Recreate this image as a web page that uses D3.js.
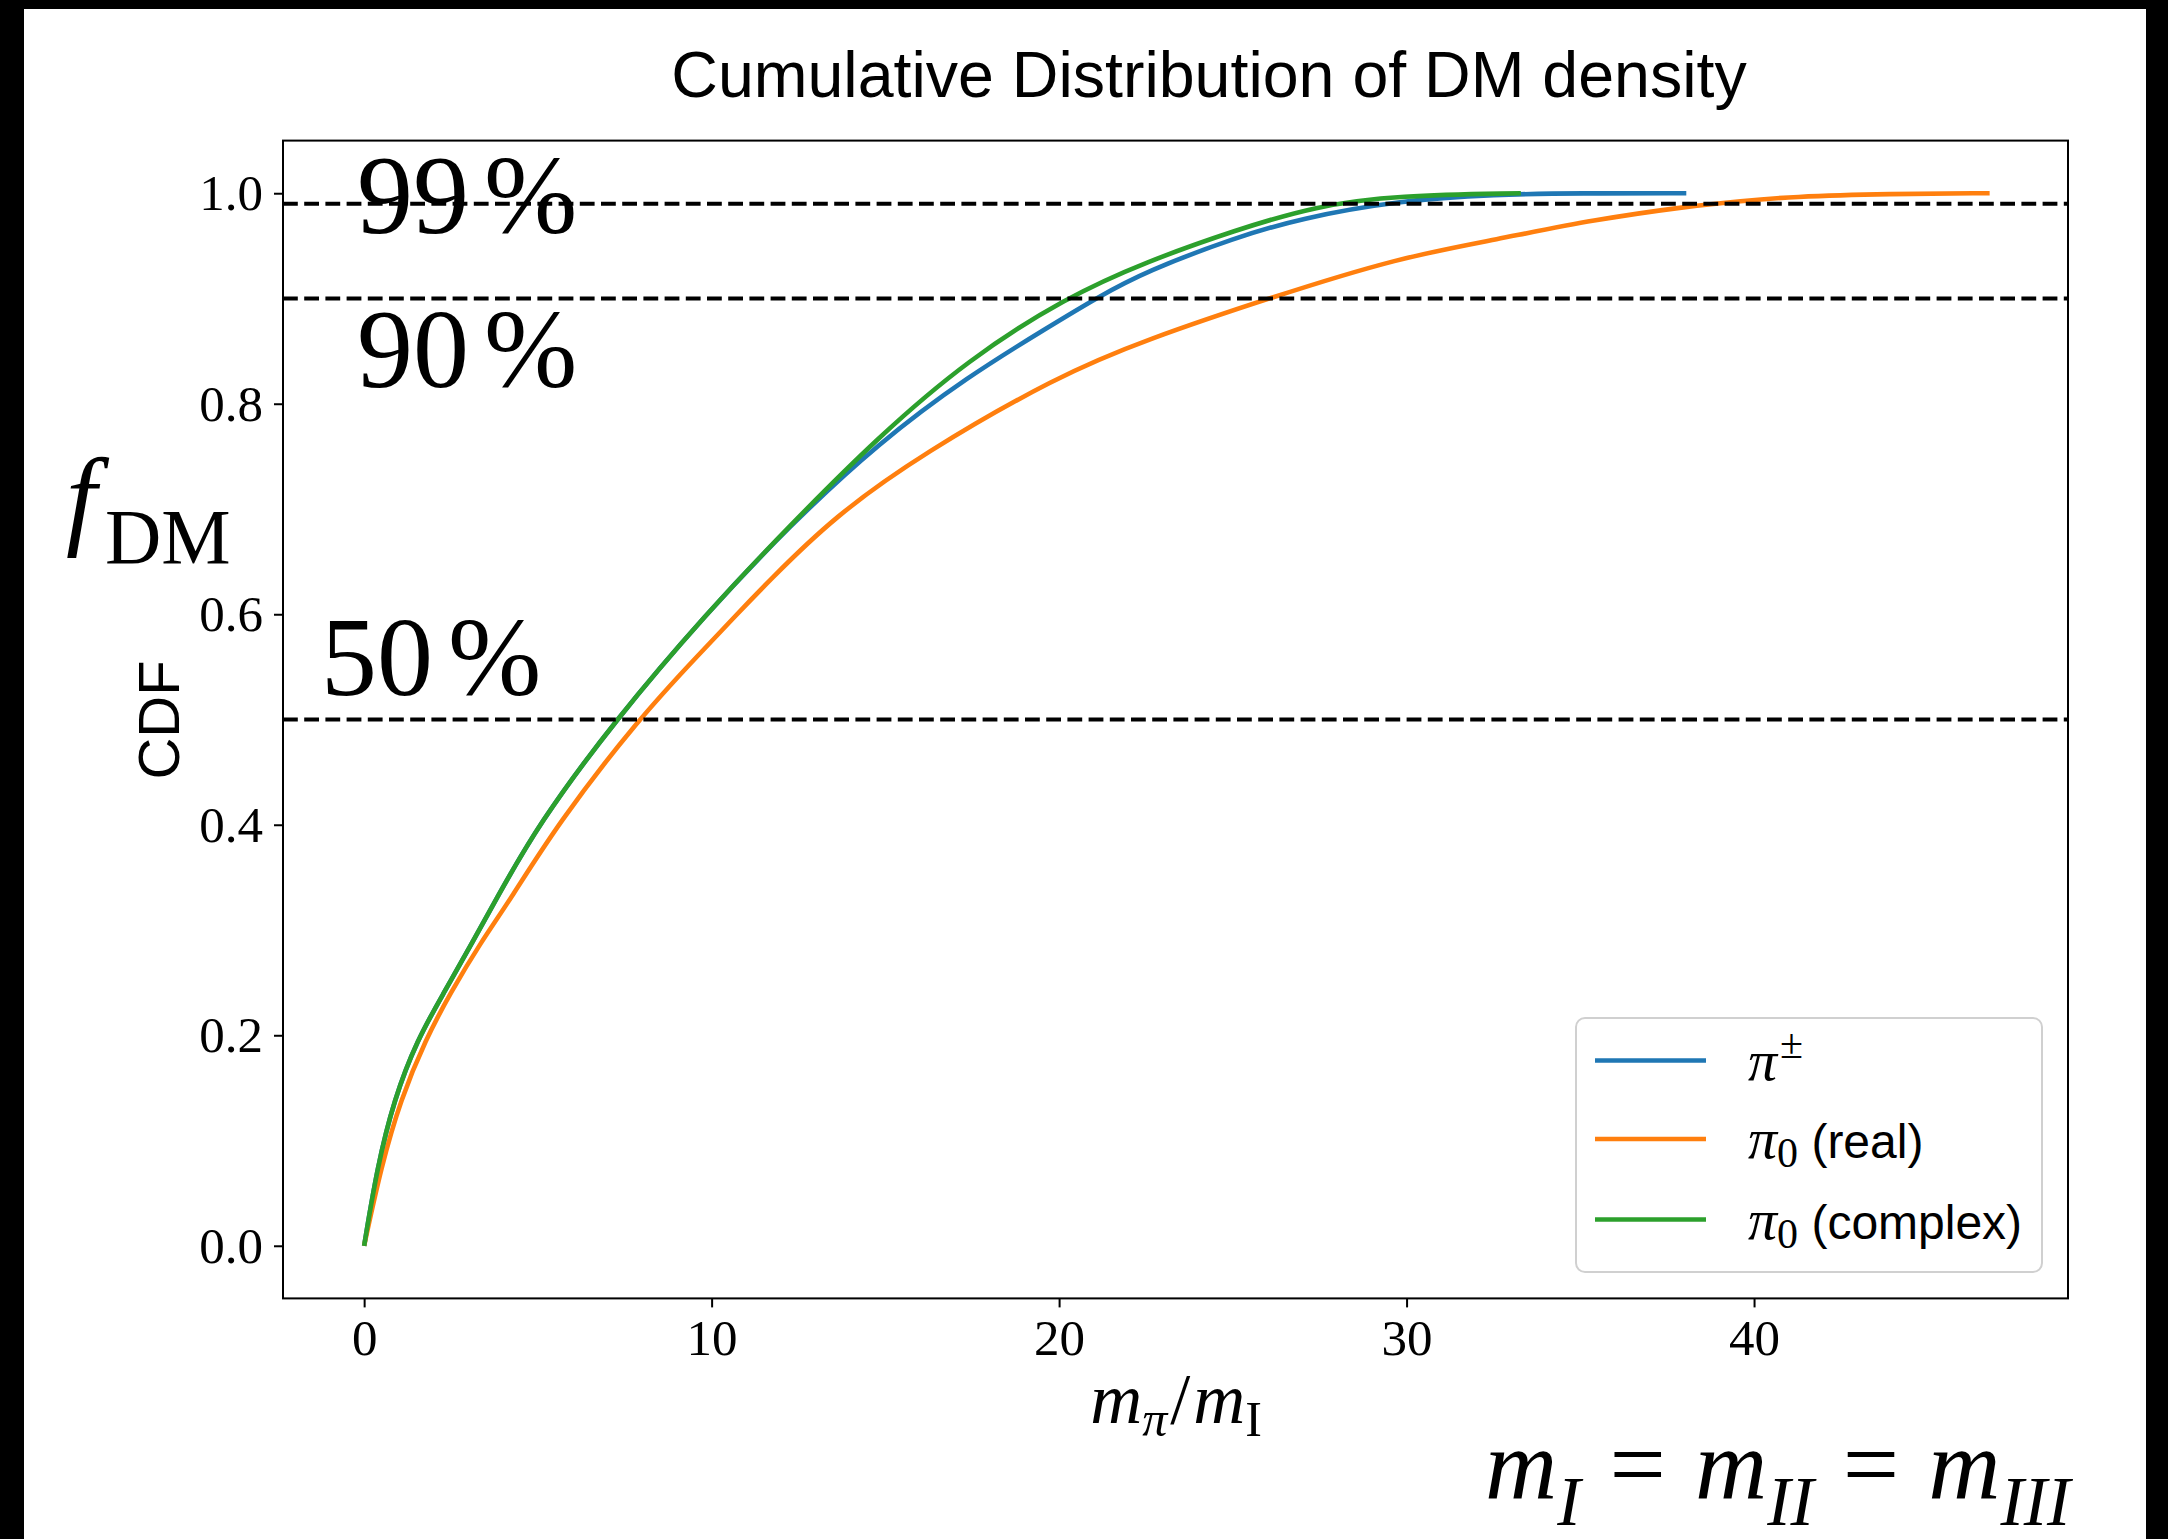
<!DOCTYPE html>
<html>
<head>
<meta charset="utf-8">
<script src="https://cdn.jsdelivr.net/npm/d3@7"></script>
<style>
  html, body { margin: 0; padding: 0; background: #000; }
  svg { display: block; }
</style>
</head>
<body>
<div id="chart"></div>
<script>
// values
var piPmX = [0, 0.38, 0.86, 1.53, 2.29, 3.06, 3.78, 5.0, 7.24, 9.83, 12.24, 14.81, 17.38, 19.7, 21.1, 22.51, 25.08, 26.93, 29.75, 32.58, 35.0, 38.05];
var piPmY = [0, 0.075, 0.139, 0.196, 0.240, 0.285, 0.328, 0.400, 0.500, 0.600, 0.684, 0.763, 0.826, 0.873, 0.901, 0.926, 0.958, 0.976, 0.993, 0.999, 1.0, 1.0];

var piRealX = [0, 0.49, 1.05, 1.77, 2.48, 3.35, 4.21, 5.55, 7.88, 9.67, 10.73, 11.6, 13.53, 16.09, 19.94, 22.51, 26.1, 29.8, 32.58, 35.4, 38.2, 39.6, 41.05, 43.9, 46.78];
var piRealY = [0, 0.075, 0.139, 0.196, 0.240, 0.288, 0.329, 0.400, 0.500, 0.563, 0.600, 0.630, 0.693, 0.753, 0.826, 0.861, 0.901, 0.939, 0.956, 0.975, 0.988, 0.9925, 0.9967, 0.9995, 1.0];

var piCplxX = [0, 0.38, 0.86, 1.53, 2.29, 3.06, 3.78, 5.0, 7.24, 9.83, 12.24, 14.81, 17.38, 20.2, 22.51, 25.08, 27.39, 29.75, 33.29];
var piCplxY = [0, 0.075, 0.139, 0.196, 0.240, 0.285, 0.328, 0.400, 0.500, 0.600, 0.684, 0.769, 0.842, 0.901, 0.935, 0.965, 0.988, 0.998, 1.0];

var levels = [0.99, 0.9, 0.5];
var levelLabels = ['99', '90', '50'];
var xTicks = [0, 10, 20, 30, 40];
var yTicks = [0, 0.2, 0.4, 0.6, 0.8, 1.0];
var seriesColors = ['#1f77b4', '#ff7f0e', '#2ca02c'];

var W = 2168, H = 1539;
var axL = 283, axR = 2068, axT = 140.6, axB = 1298.4;
var serif = '"Liberation Serif", "DejaVu Serif", serif';
var sans = '"Liberation Sans", Arial, sans-serif';

var x = d3.scaleLinear().domain([-2.335, 49.035]).range([axL, axR]);
var y = d3.scaleLinear().domain([-0.05, 1.05]).range([axB, axT]);

var svg = d3.select('#chart').append('svg')
  .attr('width', W)
  .attr('height', H);

// black frame around the white figure
svg.append('rect').attr('width', W).attr('height', H).attr('fill', '#000');
svg.append('rect').attr('x', 24).attr('y', 9).attr('width', 2146 - 24).attr('height', H - 9).attr('fill', '#fff');

svg.append('text')
  .attr('x', 1209).attr('y', 97)
  .attr('text-anchor', 'middle')
  .style('font-family', sans).style('font-size', '64.5px')
  .text('Cumulative Distribution of DM density');

// curves
var series = [
  {xs: piPmX, ys: piPmY},
  {xs: piRealX, ys: piRealY},
  {xs: piCplxX, ys: piCplxY}
];
var line = d3.line()
  .x(function(d) { return x(d[0]); })
  .y(function(d) { return y(d[1]); })
  .curve(d3.curveBasis);

var plot = svg.append('g');
series.forEach(function(s, i) {
  plot.append('path')
    .attr('d', line(d3.zip(s.xs, s.ys)))
    .attr('fill', 'none')
    .attr('stroke', seriesColors[i])
    .attr('stroke-width', 4.6);
});

// threshold lines
plot.selectAll('.lvl')
  .data(levels)
  .enter().append('line')
    .attr('x1', axL).attr('x2', axR)
    .attr('y1', function(d) { return y(d); })
    .attr('y2', function(d) { return y(d); })
    .attr('stroke', '#000')
    .attr('stroke-width', 4)
    .attr('stroke-dasharray', '14.8 6.4');

// level texts
var lvlPos = [[357, 233], [357, 387], [321, 695]];
levelLabels.forEach(function(t, i) {
  var tx = svg.append('text')
    .attr('x', lvlPos[i][0]).attr('y', lvlPos[i][1])
    .style('font-family', serif).style('font-size', '112px');
  tx.append('tspan').text(t);
  tx.append('tspan').attr('dx', 15).text('%');
});

// axes
var xAxis = d3.axisBottom(x).tickValues(xTicks).tickSize(9).tickPadding(11).tickFormat(d3.format('d'));
var yAxis = d3.axisLeft(y).tickValues(yTicks).tickSize(9).tickPadding(11).tickFormat(d3.format('.1f'));

var gx = svg.append('g').attr('transform', 'translate(0,' + axB + ')').call(xAxis);
var gy = svg.append('g').attr('transform', 'translate(' + axL + ',0)').call(yAxis);
[gx, gy].forEach(function(g) {
  g.select('.domain').remove();
  g.selectAll('.tick line').attr('stroke', '#000').attr('stroke-width', 2);
  g.selectAll('.tick text').attr('fill', '#000')
    .style('font-family', serif).style('font-size', '51px');
});

svg.append('rect')
  .attr('x', axL).attr('y', axT)
  .attr('width', axR - axL).attr('height', axB - axT)
  .attr('fill', 'none').attr('stroke', '#000').attr('stroke-width', 2);

// axis labels
var xl = svg.append('text')
  .attr('x', 1176).attr('y', 1423)
  .attr('text-anchor', 'middle')
  .style('font-family', serif).style('font-size', '72px');
xl.append('tspan').style('font-style', 'italic').text('m');
xl.append('tspan').attr('dy', 13).style('font-size', '50px').style('font-style', 'italic').text('π');
xl.append('tspan').attr('dy', -13).attr('dx', 3).text('/');
xl.append('tspan').attr('dx', 3).style('font-style', 'italic').text('m');
xl.append('tspan').attr('dy', 13).style('font-size', '50px').text('I');

svg.append('text')
  .attr('transform', 'translate(179,720) rotate(-90)')
  .attr('text-anchor', 'middle')
  .style('font-family', sans).style('font-size', '58px')
  .text('CDF');

svg.append('text')
  .attr('x', 66).attr('y', 535)
  .style('font-family', serif).style('font-size', '110px').style('font-style', 'italic')
  .text('f');
svg.append('text')
  .attr('x', 105).attr('y', 563)
  .style('font-family', serif).style('font-size', '78px')
  .text('DM');

// mass relation at the bottom right
var eq = svg.append('text')
  .attr('x', 1485).attr('y', 1498)
  .style('font-family', serif).style('font-size', '100px');
var subs = ['I', 'II', 'III'];
subs.forEach(function(s, i) {
  if (i > 0) eq.append('tspan').attr('dy', -27).attr('dx', 9).text('\u2009=\u2009');
  eq.append('tspan').attr('dx', i > 0 ? 9 : null).style('font-style', 'italic').text('m');
  eq.append('tspan').attr('dy', 27).style('font-size', '70px').style('font-style', 'italic').text(s);
});

// legend
var legend = svg.append('g');
legend.append('rect')
  .attr('x', 1576).attr('y', 1018)
  .attr('width', 466).attr('height', 254).attr('rx', 9)
  .attr('fill', '#fff').attr('fill-opacity', 0.8)
  .attr('stroke', '#d0d0d0').attr('stroke-width', 2);

var legY = [1060.5, 1139, 1219.5];
var legNames = ['', ' (real)', ' (complex)'];
legY.forEach(function(ly, i) {
  legend.append('line')
    .attr('x1', 1595).attr('x2', 1706)
    .attr('y1', ly).attr('y2', ly)
    .attr('stroke', seriesColors[i]).attr('stroke-width', 4.6);
  var t = legend.append('text')
    .attr('x', 1748).attr('y', ly + 19)
    .style('font-family', serif).style('font-size', '58px');
  t.append('tspan').style('font-style', 'italic').text('π');
  if (i === 0) {
    t.append('tspan').attr('dy', -22).attr('dx', 3).style('font-size', '42px').text('±');
  } else {
    t.append('tspan').attr('dy', 9).style('font-size', '42px').text('0');
    t.append('tspan').attr('dy', -9).style('font-family', sans).style('font-size', '48px').text(legNames[i]);
  }
});
</script>
</body>
</html>
